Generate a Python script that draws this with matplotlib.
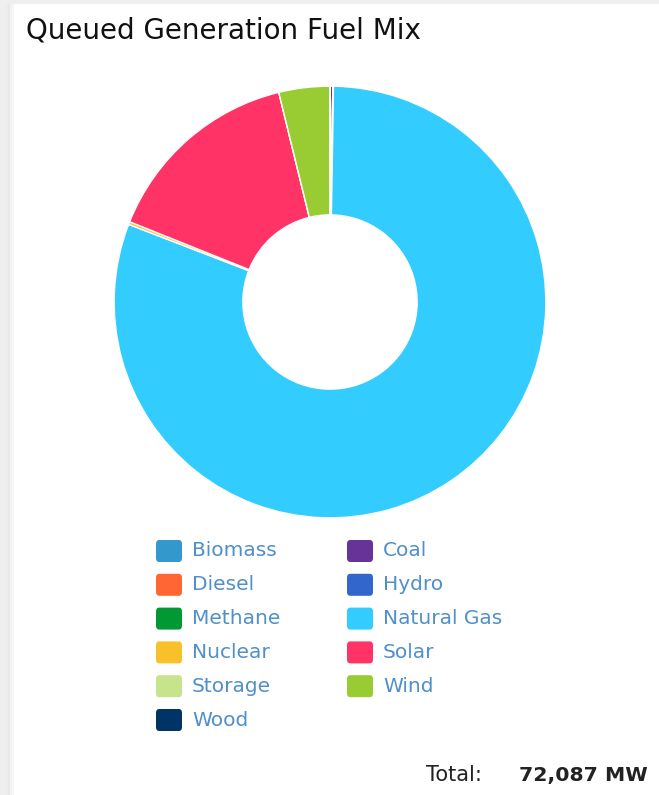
import matplotlib
matplotlib.use("Agg")
import matplotlib.pyplot as plt
from matplotlib.patches import Rectangle, FancyBboxPatch

# данные (MW)
fuels = ["Biomass", "Coal", "Diesel", "Hydro", "Methane", "Natural Gas",
         "Nuclear", "Solar", "Storage", "Wind", "Wood"]
capacity_mw = [0, 150, 0, 0, 37, 58100, 150, 10900, 0, 2750, 0]
colors = ["#3399cc", "#663399", "#ff6633", "#3366cc", "#009933", "#33ccff",
          "#f8c12c", "#ff3366", "#c6e48b", "#99cc33", "#003366"]
title = "Queued Generation Fuel Mix"
total_mw = sum(capacity_mw)

W, H = 659, 795
fig = plt.figure(figsize=(W / 100, H / 100), dpi=100)
fig.patch.set_facecolor("#efefef")

# белая карточка с тенью слева
for i, c in enumerate(["#ececec", "#e8e8e8", "#f2f2f2", "#f7f7f7"]):
    fig.patches.append(Rectangle(((6 + i * 2) / W, 0), 2 / W, 1 - 4 / H,
                                 transform=fig.transFigure, facecolor=c,
                                 edgecolor="none", zorder=-2))
fig.patches.append(Rectangle((14 / W, 0), (W - 14) / W, 1 - 4 / H,
                             transform=fig.transFigure, facecolor="white",
                             edgecolor="none", zorder=-2))

fig.text(26 / W, 1 - 30 / H, title, fontsize=20, color="#111111",
         va="center", ha="left")

# кольцевая диаграмма
cx, cy, r = 330, 302, 218
ax = fig.add_axes([(cx - r) / W, 1 - (cy + r) / H, 2 * r / W, 2 * r / H])
ax.set_zorder(1)
ax.pie(capacity_mw, colors=colors, startangle=90, counterclock=False,
       radius=1, wedgeprops=dict(width=1 - 88 / 218, edgecolor="white",
                                 linewidth=1.0))
ax.set_xlim(-1.01, 1.01)
ax.set_ylim(-1.01, 1.01)
ax.set_aspect("equal")
ax.axis("off")

# легенда в две колонки
col_x = [156, 347]
row_y0, row_dy = 551, 33.8
for i, (name, col) in enumerate(zip(fuels, colors)):
    x = col_x[i % 2]
    y = row_y0 + (i // 2) * row_dy
    fig.patches.append(FancyBboxPatch((x / W, 1 - (y + 11) / H), 26 / W, 22 / H,
                                      boxstyle="round,pad=0,rounding_size=0.005",
                                      transform=fig.transFigure, facecolor=col,
                                      edgecolor="none", zorder=2))
    fig.text((x + 36) / W, 1 - y / H, name, fontsize=14.5, color="#4f8fcb",
             va="center", ha="left")

fig.text(426 / W, 1 - 775 / H, "Total:", fontsize=15, color="#222222",
         va="center", ha="left")
fig.text(648 / W, 1 - 775 / H, f"{total_mw:,} MW", fontsize=14.7, color="#222222",
         va="center", ha="right", fontweight="bold")

fig.savefig("out.png", dpi=100, facecolor=fig.get_facecolor())
